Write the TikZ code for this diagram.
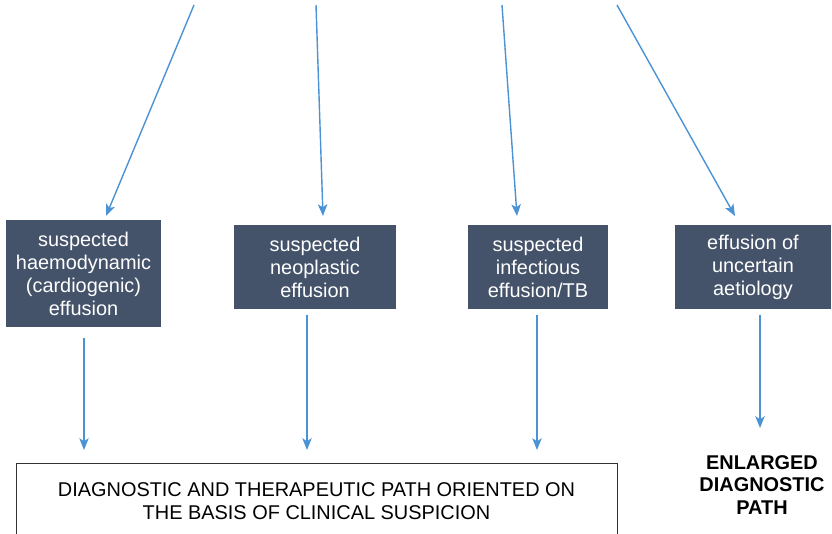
\documentclass[tikz,border=0pt]{standalone}
\usepackage{fontspec}
\setmainfont{Liberation Sans}
\usetikzlibrary{arrows.meta}

\definecolor{ardoise}{HTML}{44536A}
\definecolor{bleufleche}{HTML}{4C93D6}

\tikzset{
  boite/.style={fill=ardoise, text=white, align=center, inner sep=0pt,
    font=\fontsize{17}{19.6}\selectfont},
  fleche/.style={bleufleche, line width=1.2pt,
    -{Stealth[length=10pt,width=8pt,inset=2.5pt]}},
}

\begin{document}
\begin{tikzpicture}[x=0.03cm, y=-0.03cm]
                \useasboundingbox (0,0) rectangle (832,534);
                % Boites
                \node[boite, minimum width=155*0.03cm, minimum height=107*0.03cm] (b1) at (83.5,273.5)
                    {suspected\\haemodynamic\\(cardiogenic)\\effusion};
                \node[boite, minimum width=162*0.03cm, minimum height=84*0.03cm] (b2) at (315,267)
                    {suspected\\neoplastic\\effusion};
                \node[boite, minimum width=140*0.03cm, minimum height=84*0.03cm] (b3) at (538,267)
                    {suspected\\infectious\\effusion/TB};
                \node[boite, minimum width=156*0.03cm, minimum height=84*0.03cm] (b4) at (753,267)
                    {effusion of\\uncertain\\aetiology};
                % Cadre du bas
                \node[draw=black!80, line width=0.8pt, minimum width=601*0.03cm, minimum height=77*0.03cm,
                    align=center, font=\fontsize{17}{19.6}\selectfont] (cadre) at (316.5,501.5)
                    {DIAGNOSTIC AND THERAPEUTIC PATH ORIENTED ON\\THE BASIS OF CLINICAL SUSPICION};
                \node[align=center, font=\bfseries\fontsize{17}{19.2}\selectfont] (elargi) at (762,485)
                    {ENLARGED\\DIAGNOSTIC\\PATH};
                % Fleches du haut
                \foreach \n/\xa/\xb in {1/194/106,2/316/323,3/502/517,4/617/735}
                {
                    \coordinate (h\n) at (\xa,5);
                    \coordinate (p\n) at (\xb,216);
                    \draw[fleche] (h\n) -- (p\n);
                }
                % Fleches du bas
                \foreach \n/\xx/\ya/\yb in {1/84/338/450,2/307/315/450,3/537/315/450,4/760/315/428}
                {
                    \coordinate (q\n) at (\xx,\ya);
                    \coordinate (r\n) at (\xx,\yb);
                    \draw[fleche] (q\n) -- (r\n);
                }
            \end{tikzpicture}
\end{document}
